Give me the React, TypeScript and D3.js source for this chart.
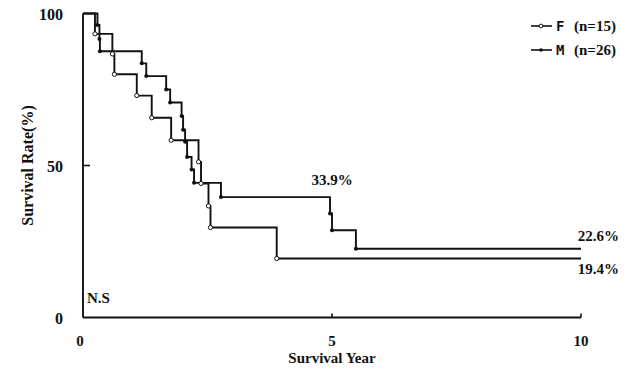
import React from "react";
import * as d3 from "d3";

// Kaplan-Meier steps (years, survival %)
const fTimes = [0.24, 0.59, 0.63, 1.08, 1.38, 1.77, 2.32, 2.37, 2.52, 2.56, 3.89];
const fSurv = [93.3, 86.7, 80.0, 73.0, 65.7, 58.3, 51.2, 44.1, 36.7, 29.6, 19.4];
const mTimes = [0.29, 0.33, 0.34, 1.18, 1.27, 1.67, 1.75, 1.98, 2.01, 2.05, 2.09, 2.18, 2.23, 2.77, 4.96, 5.0, 5.48];
const mSurv = [96.2, 91.6, 87.6, 83.6, 79.4, 75.0, 70.7, 66.3, 61.8, 57.8, 52.8, 48.7, 44.3, 39.6, 34.2, 28.7, 22.6];
const xTicks = [0, 5, 10];
const yTicks = [0, 50, 100];
const legendLabels = [
  { key: "F", n: "(n=15)", open: true },
  { key: "M", n: "(n=26)", open: false },
];
const annotations = [
  { text: "33.9%", x: 5.0, y: 43.5 },
  { text: "22.6%", x: 10.35, y: 25.2 },
  { text: "19.4%", x: 10.35, y: 14.4 },
];

const W = 632;
const H = 374;
const serif = "'Liberation Serif', 'Times New Roman', serif";

const x = d3.scaleLinear().domain([0, 10]).range([83, 581]);
const y = d3.scaleLinear().domain([0, 100]).range([317.5, 13.5]);

function stepPath(times: number[], surv: number[]) {
  const pts: [number, number][] = [[0, 100]];
  let prev = 100;
  times.forEach((t, i) => {
    pts.push([t, prev]);
    pts.push([t, surv[i]]);
    prev = surv[i];
  });
  pts.push([10, prev]);
  return d3
    .line<[number, number]>()
    .x((d) => x(d[0]))
    .y((d) => y(d[1]))(pts) as string;
}

export default function App() {
  const lineStyle = { fill: "none", stroke: "#111", strokeWidth: 1.9 };
  return (
    <svg
      width={W}
      height={H}
      style={{ position: "absolute", left: 0, top: 0, background: "#fff", display: "block" }}
    >
      {/* axes */}
      <line x1={x(0)} x2={x(0)} y1={y(0)} y2={y(100)} stroke="#111" strokeWidth={1.9} />
      <line x1={x(0)} x2={x(10)} y1={y(0)} y2={y(0)} stroke="#111" strokeWidth={1.9} />
      {yTicks.filter((t) => t === 50).map((t) => (
        <line key={t} x1={x(0)} x2={x(0) + 7} y1={y(t)} y2={y(t)} stroke="#111" strokeWidth={1.6} />
      ))}
      {xTicks.filter((t) => t > 0).map((t) => (
        <line key={t} x1={x(t)} x2={x(t)} y1={y(0)} y2={y(0) - 4} stroke="#111" strokeWidth={1.6} />
      ))}
      {yTicks.map((t) => (
        <text key={t} x={63} y={y(t) + 6} textAnchor="end" fontFamily={serif} fontWeight="bold" fontSize={16} fill="#111">
          {t}
        </text>
      ))}
      {xTicks.map((t) => (
        <text key={t} x={x(t) - (t === 0 ? 3 : 0)} y={346} textAnchor="middle" fontFamily={serif} fontWeight="bold" fontSize={15} fill="#111">
          {t}
        </text>
      ))}
      <text x={332} y={363} textAnchor="middle" fontFamily={serif} fontWeight="bold" fontSize={15} fill="#111">
        Survival Year
      </text>
      <text
        transform={`translate(33, ${y(50)}) rotate(-90)`}
        textAnchor="middle"
        fontFamily={serif}
        fontWeight="bold"
        fontSize={16}
        fill="#111"
      >
        Survival Rate(%)
      </text>

      {/* curves */}
      <path d={stepPath(mTimes, mSurv)} {...lineStyle} />
      <path d={stepPath(fTimes, fSurv)} {...lineStyle} />
      {mTimes.map((t, i) => (
        <circle key={"m" + i} cx={x(t)} cy={y(mSurv[i])} r={2} fill="#111" />
      ))}
      {fTimes.map((t, i) => (
        <circle key={"f" + i} cx={x(t)} cy={y(fSurv[i])} r={2.1} fill="#fff" stroke="#111" strokeWidth={1} />
      ))}

      {/* annotations */}
      {annotations.map((a) => (
        <text key={a.text} x={x(a.x)} y={y(a.y)} textAnchor="middle" fontFamily={serif} fontWeight="bold" fontSize={15} fill="#111">
          {a.text}
        </text>
      ))}
      <text x={87} y={303} fontFamily={serif} fontWeight="bold" fontSize={15} fill="#111">
        N.S
      </text>

      {/* legend */}
      {legendLabels.map((l, i) => {
        const ly = 26 + i * 24;
        return (
          <g key={l.key}>
            <line x1={531} x2={552} y1={ly} y2={ly} stroke="#111" strokeWidth={1.6} />
            {l.open ? (
              <circle cx={541} cy={ly} r={1.9} fill="#fff" stroke="#111" strokeWidth={1} />
            ) : (
              <circle cx={541} cy={ly} r={1.8} fill="#111" />
            )}
            <text x={556} y={ly + 5} fontFamily="'DejaVu Sans Mono', monospace" fontWeight="bold" fontSize={14} fill="#111">
              {l.key}
            </text>
            <text x={574} y={ly + 5} fontFamily={serif} fontWeight="bold" fontSize={15} fill="#111">
              {l.n}
            </text>
          </g>
        );
      })}
    </svg>
  );
}
